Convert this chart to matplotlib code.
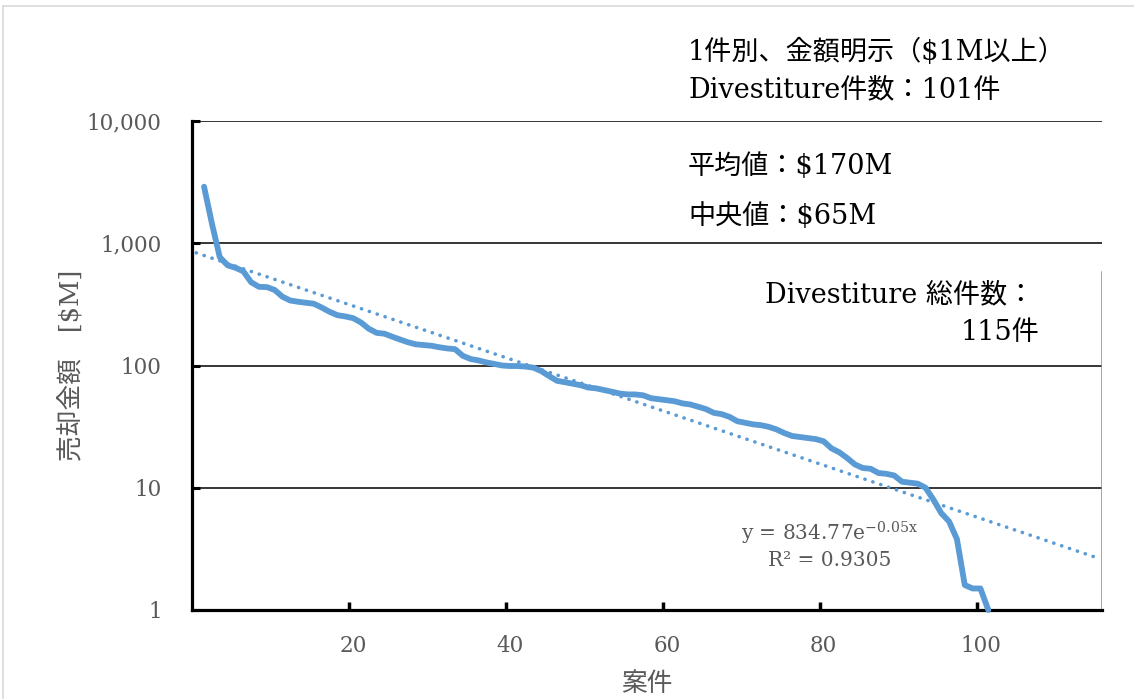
import numpy as np
import matplotlib
matplotlib.use("Agg")
import matplotlib.pyplot as plt
from matplotlib.lines import Line2D

# ---- data ----
deal_values = [2900, 1450, 770, 660, 630, 590, 480, 440, 438, 415,
               365, 340, 332, 326, 320, 298, 275, 258, 252, 244,
               225, 200, 185, 182, 172, 163, 155, 149, 147, 145,
               141, 138, 136, 120, 113, 110, 106, 103, 100, 99,
               99, 98, 96, 90, 82, 75, 73, 71, 69, 66,
               65, 63, 61, 59, 58, 58, 57, 54, 53, 52,
               51, 49, 48, 46, 44, 41, 40, 38, 35, 34,
               33, 32.5, 31.5, 30, 28, 26.5, 26, 25.5, 25, 24,
               21, 19.5, 17.5, 15.5, 14.5, 14.3, 13.2, 13, 12.6, 11.2,
               11, 10.8, 10, 8, 6.2, 5.3, 3.8, 1.6, 1.5, 1.5,
               1.0]
trend_a = 834.77
trend_b = -0.05
trend_end = 115
total_cases = 115
y_ticks = [1, 10, 100, 1000, 10000]
y_tick_labels = ["1", "10", "100", "1,000", "10,000"]
x_ticks = [20, 40, 60, 80, 100]
x_tick_labels = ["20", "40", "60", "80", "100"]

BLUE = "#5B9BD5"
GRAY = "#595959"
FONT = ["DejaVu Serif", "Noto Sans CJK JP", "DejaVu Sans"]
plt.rcParams["font.family"] = FONT
plt.rcParams["mathtext.default"] = "regular"

W, H = 1134, 699
fig = plt.figure(figsize=(W / 100, H / 100), dpi=100)
L, R, T, B = 192.3, 1102, 121, 610
ax = fig.add_axes([L / W, 1 - B / H, (R - L) / W, (B - T) / H])

x = np.arange(1, len(deal_values) + 1)
ax.plot(x, deal_values, color=BLUE, lw=4.2, solid_joinstyle="round",
        solid_capstyle="round", zorder=3, clip_on=False)

tx = np.linspace(0, trend_end, 400)
ax.plot(tx, trend_a * np.exp(trend_b * tx), color=BLUE, lw=2.6,
        linestyle=(0, (0.05, 2.25)), dash_capstyle="round", zorder=4)

# vertical marker of total cases
ax.plot([total_cases + 0.45, total_cases + 0.45], [1, 580], color=BLUE, lw=1.1, zorder=2)

ax.set_yscale("log")
ax.set_ylim(1, 10000)
ax.set_xlim(-0.5, 115.5)
ax.set_yticks(y_ticks)
ax.set_yticklabels(y_tick_labels)
ax.yaxis.set_minor_locator(matplotlib.ticker.NullLocator())
ax.set_xticks(x_ticks)
ax.set_xticklabels(x_tick_labels)
ax.set_xticks([t - 0.5 for t in x_ticks], minor=True)

for yv in y_ticks[1:]:
    ax.axhline(yv, color="black", lw=1.1, zorder=1)

for s in ["top", "right"]:
    ax.spines[s].set_visible(False)
for s in ["left", "bottom"]:
    ax.spines[s].set_linewidth(2.3)
    ax.spines[s].set_color("black")

ax.tick_params(axis="y", which="major", direction="in", length=6, width=2.2,
               pad=22, labelsize=15.5, labelcolor=GRAY)
ax.tick_params(axis="x", which="major", length=0, pad=18, labelsize=15.5, labelcolor=GRAY)
ax.tick_params(axis="x", which="minor", direction="in", length=6, width=2.5)

ax.set_xlabel("案件", fontsize=18.5, color=GRAY, labelpad=10)
ax.set_ylabel("売却金額\u3000[$M]", fontsize=18.5, color=GRAY, labelpad=2)

def ftext(px, py, s, **kw):
    fig.text(px / W, 1 - py / H, s, **kw)

FS = 19.5
ftext(688, 52, "1件別、金額明示（$1M以上）", fontsize=FS, va="center", ha="left")
ftext(688, 90, "Divestiture件数：101件", fontsize=FS, va="center", ha="left")
ftext(688, 167, "平均値：$170M", fontsize=FS, va="center", ha="left")
ftext(688, 216, "中央値：$65M", fontsize=FS, va="center", ha="left")
ftext(1034, 295, "Divestiture 総件数：", fontsize=FS, va="center", ha="right")
ftext(1040, 332, "115件", fontsize=FS, va="center", ha="right")

ftext(829, 533, "y = 834.77e$^{-0.05x}$", fontsize=14.5, color=GRAY, va="center", ha="center")
ftext(830, 561, "R² = 0.9305", fontsize=14.5, color=GRAY, va="center", ha="center")

# light chart-area border
fig.add_artist(Line2D([3 / W, 1.0], [1 - 6 / H, 1 - 6 / H], color="#D9D9D9", lw=1.2))
fig.add_artist(Line2D([3 / W, 3 / W], [1 - 6 / H, 0], color="#D9D9D9", lw=1.2))

fig.savefig("out.png", dpi=100)
